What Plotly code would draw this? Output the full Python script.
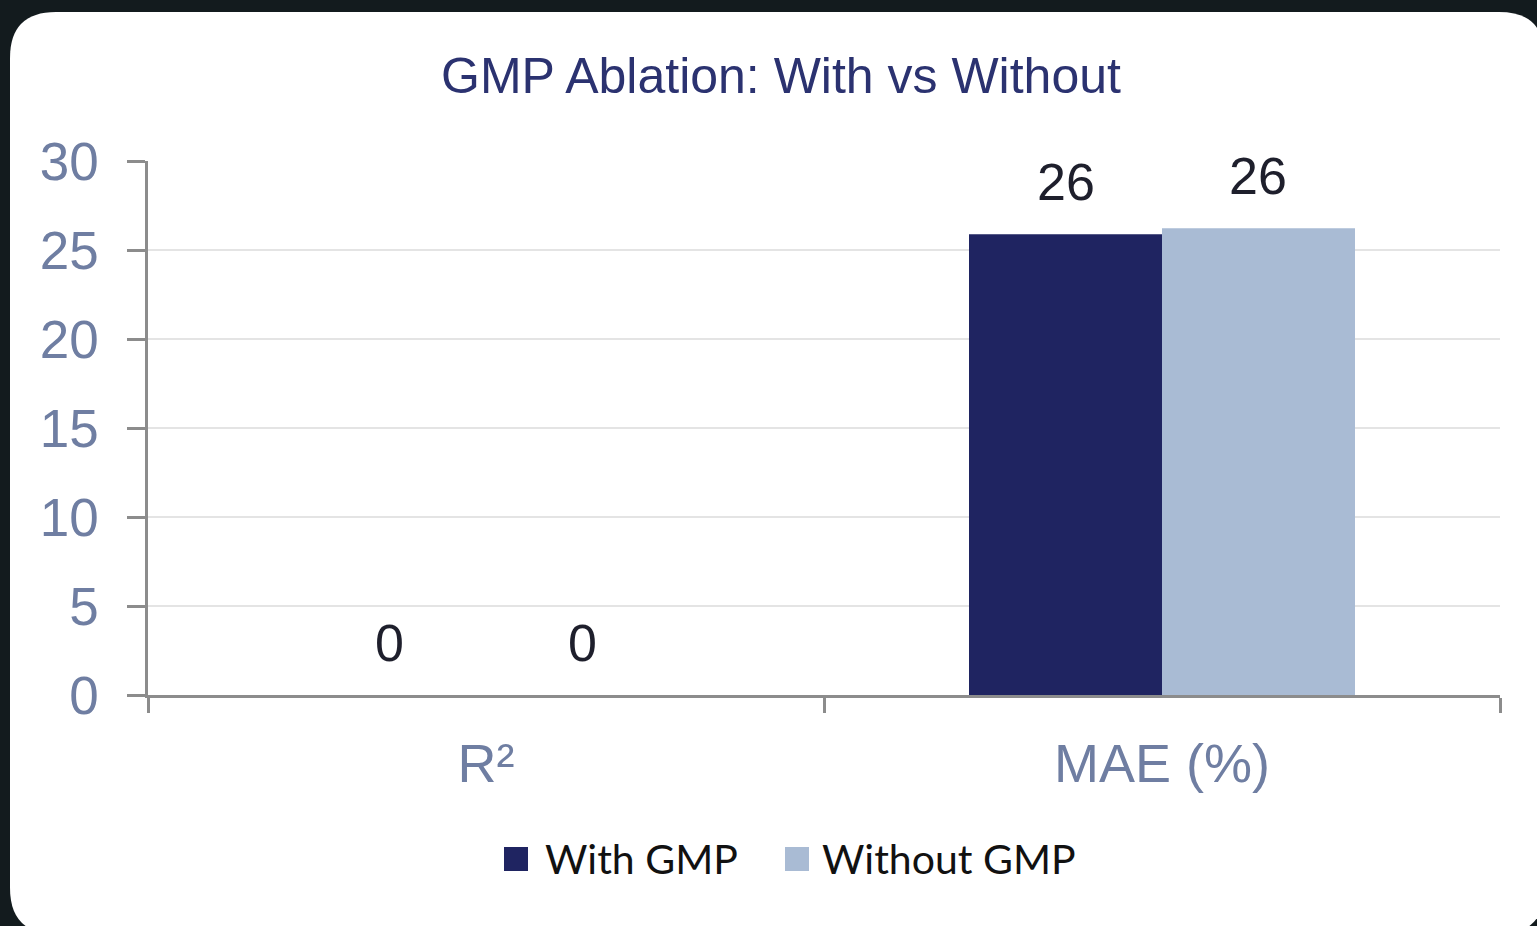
import plotly.graph_objects as go

# ---- data ----
metrics = ["R²", "MAE (%)"]
with_gmp = [0.0, 25.88]
without_gmp = [0.0, 26.22]
series_names = ["With GMP", "Without GMP"]
y_ticks = [0, 5, 10, 15, 20, 25, 30]

# ---- geometry (pixels) ----
W, H = 1537, 926
L, R, T, B = 148, 37, 161, 231
PW = W - L - R
PH = H - T - B

NAVY = "#1f2461"
LIGHT = "#a9bbd4"
AXIS = "#8c8c8c"
TICKTXT = "#6f7ea2"
FONT = "Liberation Sans, Arial, sans-serif"


def px(x):
    return (x - L) / PW


def py(y):
    return (H - B - y) / PH


def card_path(x0, y0, x1, y1, r):
    pts = [
        ("M", [(x0 + r, y0)]),
        ("L", [(x1 - r, y0)]),
        ("Q", [(x1, y0), (x1, y0 + r)]),
        ("L", [(x1, y1 - r)]),
        ("Q", [(x1, y1), (x1 - r, y1)]),
        ("L", [(x0 + r, y1)]),
        ("Q", [(x0, y1), (x0, y1 - r)]),
        ("L", [(x0, y0 + r)]),
        ("Q", [(x0, y0), (x0 + r, y0)]),
    ]
    out = []
    for cmd, ps in pts:
        out.append(cmd + " ".join(f"{px(a):.5f},{py(b):.5f}" for a, b in ps))
    return " ".join(out) + " Z"


fig = go.Figure()
fig.add_bar(x=metrics, y=with_gmp, name=series_names[0], marker_color=NAVY,
            marker_line_width=0, showlegend=False)
fig.add_bar(x=metrics, y=without_gmp, name=series_names[1], marker_color=LIGHT,
            marker_line_width=0, showlegend=False)

# value labels above each bar
bar_px = PW / len(metrics) * (1 - 0.429) / 2
annotations = []
for vals, shift in ((with_gmp, -bar_px / 2), (without_gmp, bar_px / 2)):
    for m, v in zip(metrics, vals):
        annotations.append(dict(
            x=m, y=v, xref="x", yref="y", text=f"{v:.0f}", showarrow=False,
            xshift=shift, yshift=52, yanchor="middle",
            font=dict(family=FONT, size=52, color="#1e1f2c"),
        ))

# legend drawn as swatches + labels
legend_items = [(series_names[0], NAVY, 504, 543), (series_names[1], LIGHT, 785, 820)]
shapes = [dict(type="path", path=card_path(10, 12, 1545, 934, 46), xref="paper",
               yref="paper", fillcolor="white", line_width=0, layer="below")]
for name, col, sx, tx in legend_items:
    shapes.append(dict(type="rect", xref="paper", yref="paper",
                       x0=px(sx), x1=px(sx + 24), y0=py(847), y1=py(871),
                       fillcolor=col, line_width=0))
    annotations.append(dict(x=px(tx), y=py(859), xref="paper", yref="paper",
                            text=name, showarrow=False, xanchor="left",
                            yanchor="middle",
                            font=dict(family="Lato, sans-serif", size=41,
                                      color="#111111")))

fig.update_layout(
    width=W, height=H,
    margin=dict(l=L, r=R, t=T, b=B, pad=0),
    paper_bgcolor="#131b1e",
    plot_bgcolor="rgba(0,0,0,0)",
    barmode="group", bargap=0.429, bargroupgap=0,
    title=dict(text="GMP Ablation: With vs Without", x=781 / W, y=1 - 75 / H,
               xref="container", yref="container", xanchor="center",
               yanchor="middle",
               font=dict(family=FONT, size=50, color="#2b3270")),
    shapes=shapes,
    annotations=annotations,
    showlegend=False,
)
fig.update_xaxes(
    showline=True, linecolor=AXIS, linewidth=2.5,
    ticks="outside", tickson="boundaries", ticklen=15, tickcolor=AXIS,
    tickwidth=2.5, ticklabelstandoff=19, showgrid=False,
    tickfont=dict(family=FONT, size=54, color=TICKTXT),
)
fig.update_yaxes(
    range=[0, 30], tickvals=y_ticks, showline=True, linecolor=AXIS,
    linewidth=2.5, ticks="outside", ticklen=18, tickcolor=AXIS, tickwidth=2.5,
    ticklabelstandoff=18, showgrid=True, gridcolor="#e4e4e4", gridwidth=1.5,
    zeroline=False,
    tickfont=dict(family=FONT, size=53, color=TICKTXT),
)

fig.write_html("out.html")
